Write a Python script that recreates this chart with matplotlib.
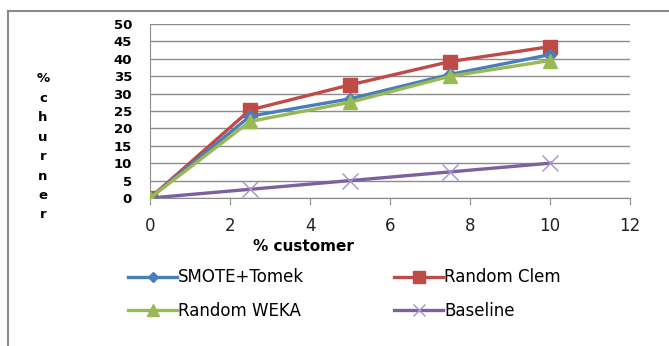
import matplotlib.pyplot as plt
from matplotlib.lines import Line2D

customer = [0, 2.5, 5, 7.5, 10]
smote_tomek = [0, 23.5, 28.5, 35.5, 41.2]
random_clem = [0, 25.3, 32.5, 39.2, 43.5]
random_weka = [0, 22, 27.5, 35, 39.5]
baseline = [0, 2.5, 5, 7.5, 10]

fig = plt.figure(figsize=(6.69, 3.46), dpi=100)
ax = fig.add_axes([150/669, 1-198/346, 480/669, 174/346])

# outer chart border
fig.add_artist(Line2D([8/669, 8/669], [0, 1-11/346], transform=fig.transFigure, color='#8a8a8a', lw=1.5))
fig.add_artist(Line2D([8/669, 1], [1-11/346, 1-11/346], transform=fig.transFigure, color='#8a8a8a', lw=1.5))

l1, = ax.plot(customer, smote_tomek, color='#4a7ebb', lw=2.4, marker='D', ms=6, label='SMOTE+Tomek', zorder=4)
l2, = ax.plot(customer, random_clem, color='#be4b48', lw=2.4, marker='s', ms=10, label='Random Clem', zorder=3)
l3, = ax.plot(customer, random_weka, color='#98b954', lw=2.4, marker='^', ms=10, label='Random WEKA', zorder=5)
l4, = ax.plot(customer, baseline, color='#7d60a0', lw=2.4, marker='x', ms=11, mew=1,
              mec='#a593c8', label='Baseline', zorder=3)

ax.set_xlim(0, 12)
ax.set_ylim(0, 50)
ax.set_xticks(range(0, 13, 2))
ax.set_yticks(range(0, 51, 5))
ax.yaxis.grid(True, color='#8c8c8c', lw=1)
ax.set_axisbelow(True)
for s in ['top', 'right']:
    ax.spines[s].set_visible(False)
ax.spines['left'].set_color('#8c8c8c')
ax.spines['bottom'].set_color('#8c8c8c')
ax.tick_params(axis='x', direction='out', length=5, color='#8c8c8c', labelsize=12, pad=9)
ax.tick_params(axis='y', direction='out', length=0, labelsize=9.5, pad=13)
for t in ax.get_yticklabels():
    t.set_fontweight('bold')
for t in ax.get_xticklabels():
    t.set_color('#222222')

ax.set_xlabel('% customer', fontsize=11, fontweight='bold', labelpad=-2)
ax.xaxis.set_label_coords(0.32, -0.235)

# vertical stacked y label
for i, ch in enumerate('%churner'):
    fig.text(43/669, 1-(79+19.4*i)/346, ch, fontsize=9.5, fontweight='bold',
             ha='center', va='center')

# column-major fill: pair rows as in the original layout
fig.legend([l1, l3, l2, l4], ['SMOTE+Tomek', 'Random WEKA', 'Random Clem', 'Baseline'],
           loc='upper left', bbox_to_anchor=(120/669, 1-260/346), ncol=2,
           fontsize=12, frameon=False, handlelength=2.9, handletextpad=0.1,
           columnspacing=5.4, labelspacing=0.95, borderpad=0, markerscale=0.85)

fig.savefig('out.png', dpi=100)
